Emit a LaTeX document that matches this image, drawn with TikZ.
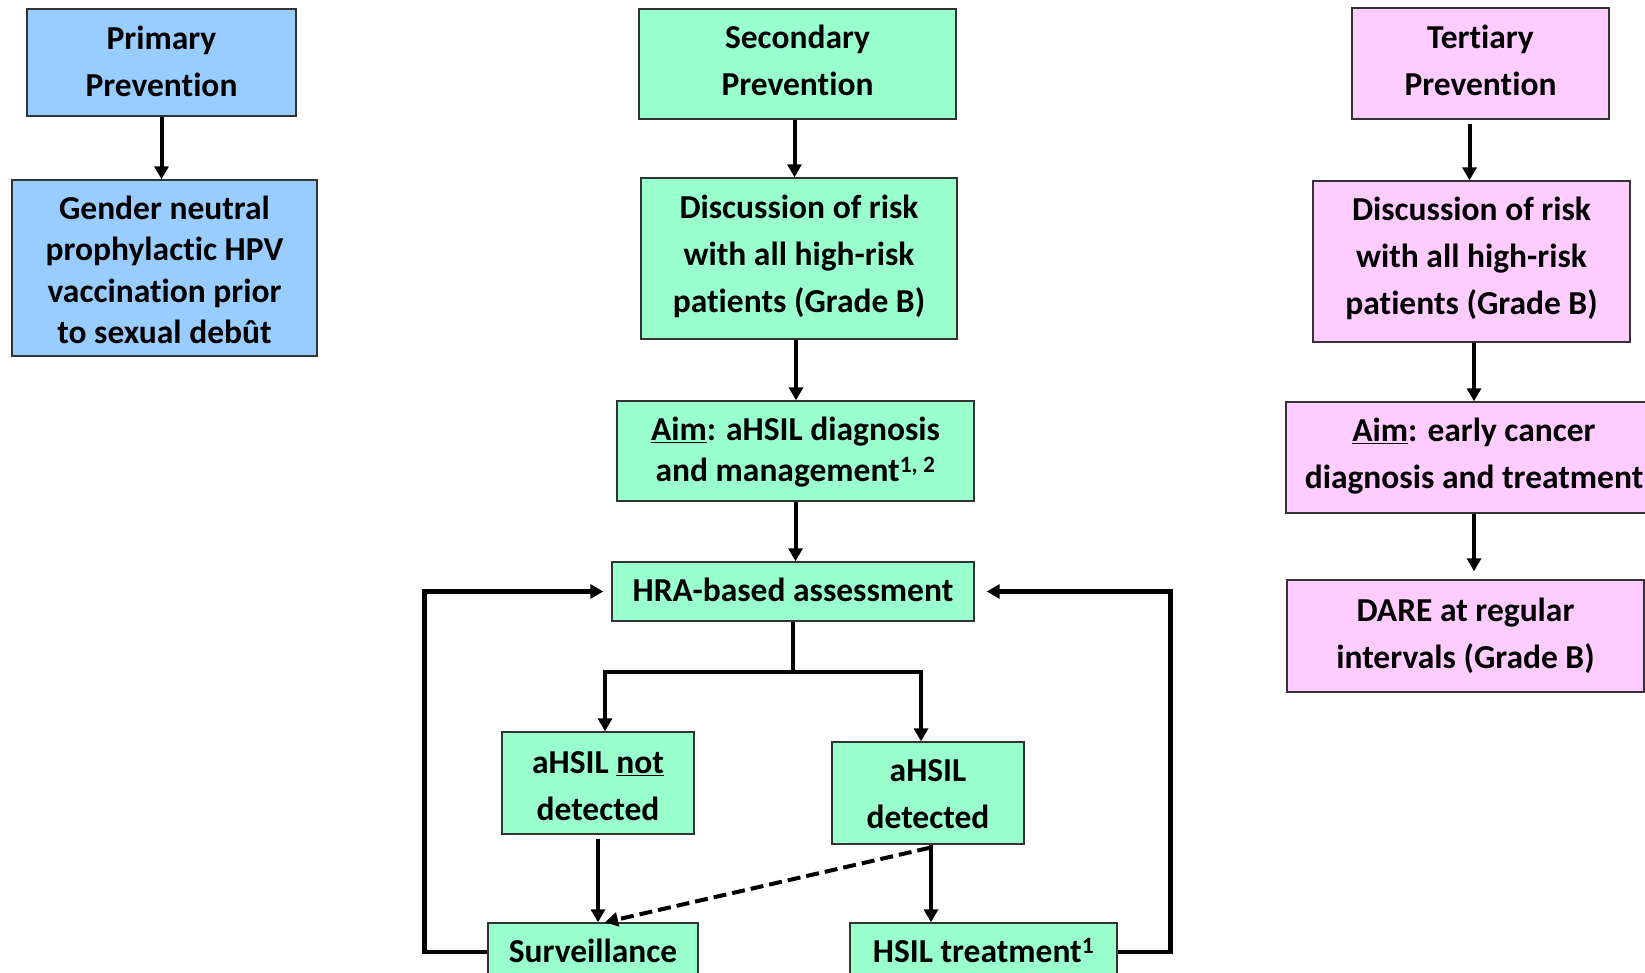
\documentclass[tikz,border=0pt]{standalone}
\usepackage{fontspec}
\setmainfont{Carlito}[Ligatures=NoCommon]
\usetikzlibrary{arrows.meta}
\definecolor{bluebox}{HTML}{99CCFF}
\definecolor{greenbox}{HTML}{99FFCC}
\definecolor{pinkbox}{HTML}{FFCCFF}
\definecolor{edgecol}{HTML}{333333}
% #1: shift of the text downwards (pt), #2: lines
\newcommand\tx[2]{\raisebox{0pt}[\dimexpr\height+#1pt\relax][\dimexpr\depth-#1pt\relax]{\begin{tabular}{@{}c@{}}#2\end{tabular}}}
\begin{document}
\begin{tikzpicture}[x=1pt,y=-1pt,
 box/.style={draw=edgecol, line width=1.4pt, inner sep=0pt, font=\fontsize{33.5}{47}\selectfont\bfseries},
 bbox/.style={box, fill=bluebox},
 gbox/.style={box, fill=greenbox},
 pbox/.style={box, fill=pinkbox},
 arr/.style={line width=4pt, -{Triangle[width=14pt,length=13pt]}},
 dsh/.style={arr, dash pattern=on 13pt off 6pt},
]
\clip (0,0) rectangle (1645,973);
\fill[white] (0,0) rectangle (1645,973);

% Primary
\node[bbox, minimum width=269pt, minimum height=107pt] (prim) at (161.5,62.5) {\tx{1}{Primary\\Prevention}};
\node[bbox, minimum width=305pt, minimum height=176pt, font=\fontsize{33.5}{41.5}\selectfont\bfseries] (gender) at (164.5,268) {\tx{5}{Gender neutral\\prophylactic HPV\\vaccination prior\\to sexual debût}};

% Secondary
\node[gbox, minimum width=317pt, minimum height=110pt] (sec) at (797.5,64) {\tx{-1}{Secondary\\Prevention}};
\node[gbox, minimum width=316pt, minimum height=161pt] (disc) at (799,258.5) {\tx{-2}{Discussion of risk\\with all high-risk\\patients (Grade B)}};
\node[gbox, minimum width=357pt, minimum height=100pt, font=\fontsize{33.5}{41}\selectfont\bfseries] (aim) at (795.5,451) {\tx{2}{\underline{Aim}: aHSIL diagnosis\\and management\textsuperscript{1, 2}}};
\node[gbox, minimum width=362pt, minimum height=59pt] (hra) at (793,591.5) {\tx{1}{HRA-based assessment}};
\node[gbox, minimum width=192pt, minimum height=102pt] (notd) at (598,783) {\tx{5}{aHSIL \underline{not}\\detected}};
\node[gbox, minimum width=192pt, minimum height=102pt] (det) at (928,793) {\tx{2.5}{aHSIL\\detected}};
\node[gbox, minimum width=210pt, minimum height=58pt] (surv) at (593,952) {\tx{1}{Surveillance}};
\node[gbox, minimum width=267pt, minimum height=58pt] (hsil) at (983.5,952) {\tx{1}{HSIL treatment\textsuperscript{1}}};

% Tertiary
\node[pbox, minimum width=257pt, minimum height=111pt] (tert) at (1480.5,63.5) {\tx{-1}{Tertiary\\Prevention}};
\node[pbox, minimum width=317pt, minimum height=161pt] (tdisc) at (1471.5,261.5) {\tx{-3.5}{Discussion of risk\\with all high-risk\\patients (Grade B)}};
\node[pbox, minimum width=376pt, minimum height=111pt] (taim) at (1474,457.5) {\tx{-2}{\underline{Aim}: early cancer\\diagnosis and treatment}};
\node[pbox, minimum width=357pt, minimum height=112pt] (dare) at (1465.5,636) {\tx{0}{DARE at regular\\intervals (Grade B)}};

% connectors
\draw[arr] (prim.south) -- (prim.south |- gender.north);
\draw[arr] ([xshift=-3pt]sec.south) -- ([xshift=-3pt]sec.south |- disc.north);
\draw[arr] ([xshift=-3pt]disc.south) -- ([xshift=-3pt]disc.south |- aim.north);
\draw[arr] (aim.south) -- (aim.south |- hra.north);

\coordinate (sl) at (605,672);
\coordinate (sr) at (921,672);
\draw[arr] (hra.south) -- (hra.south |- sl) -- (sl) -- (sl |- notd.north);
\draw[arr] (hra.south |- sl) -- (sr) -- (sr |- det.north);

\draw[arr] ([yshift=-4pt]notd.south) -- (notd.south |- surv.north);
\draw[arr] ([xshift=3pt]det.south) -- ([xshift=3pt]det.south |- hsil.north);
\draw[dsh] ([xshift=2pt,yshift=-3pt]det.south) -- ([xshift=12pt]surv.north);

\draw[arr, line width=4.5pt] (surv.west) -| ([xshift=-187pt]hra.west) -- ([xshift=-8pt]hra.west);
\draw[arr, line width=4.5pt] (hsil.east) -| ([xshift=196pt]hra.east) -- ([xshift=12pt]hra.east);

\draw[arr] ([xshift=-11pt,yshift=-4pt]tert.south) -- ([xshift=-11pt]tert.south |- tdisc.north);
\draw[arr] ([xshift=2.5pt]tdisc.south) -- ([xshift=2.5pt]tdisc.south |- taim.north);
\draw[arr] (taim.south) -- ([yshift=8pt]taim.south |- dare.north);
\end{tikzpicture}
\end{document}
